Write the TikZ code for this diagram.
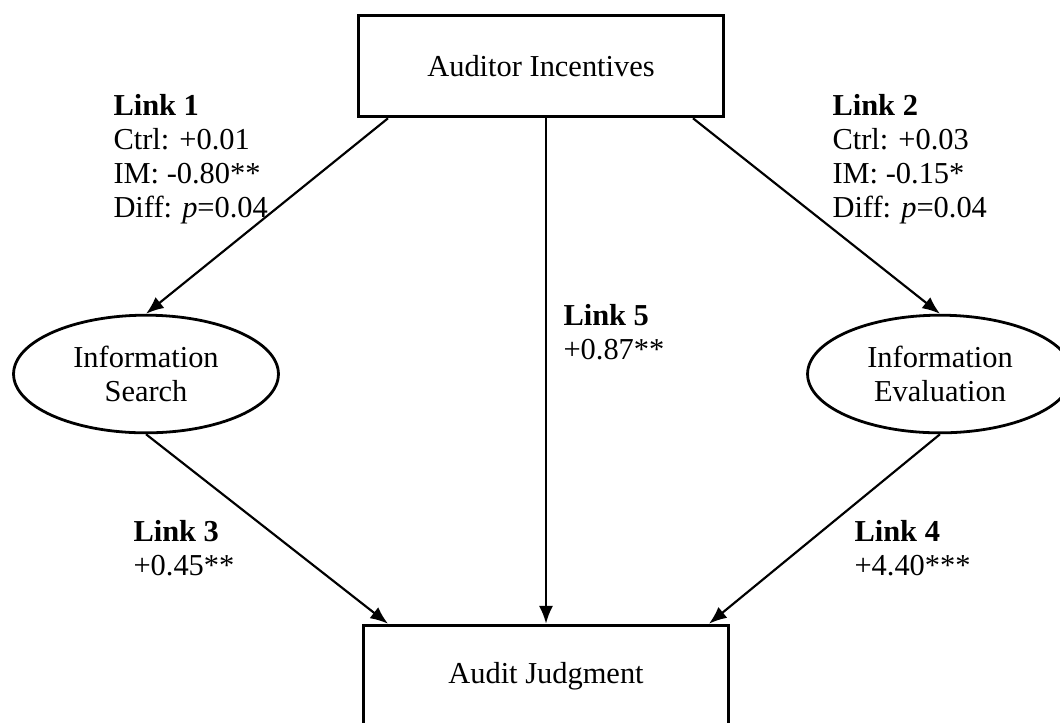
\documentclass[tikz,border=0pt]{standalone}
\usepackage{fontspec}
\setmainfont{Liberation Serif}
\usetikzlibrary{shapes,arrows.meta}

\begin{document}
\begin{tikzpicture}[x=0.01385cm,y=-0.01385cm,>={Latex[length=7pt,width=5.5pt]}]
\tikzstyle{every node}=[font=\fontsize{12}{13.4}\selectfont]
\tikzstyle{box}=[rectangle,draw,line width=1.1pt,minimum width=5.06cm,minimum height=1.41cm]
\tikzstyle{oval}=[ellipse,draw,line width=1.1pt,minimum width=3.67cm,minimum height=1.63cm,align=center]
\tikzstyle{lnk}=[anchor=base west,align=left,inner sep=0pt]
\useasboundingbox (0,0) rectangle (1060,722);
\node[box] (inc) at (541,66) {Auditor Incentives};
\node[oval] (srch) at (146,374) {Information\\Search};
\node[oval] (eval) at (940,374) {Information\\Evaluation};
\node[box] (judg) at (546,676) {Audit Judgment};
\draw[->,line width=0.85pt] ([shift={(-153,0)}]inc.south) -- (srch.north);
\draw[->,line width=0.85pt] ([shift={(152,0)}]inc.south) -- (eval.north);
\draw[->,line width=0.85pt] (inc.south -| judg.north) -- (judg.north);
\draw[->,line width=0.85pt] (srch.south) -- ([shift={(-158,0)}]judg.north);
\draw[->,line width=0.85pt] (eval.south) -- ([shift={(163,0)}]judg.north);
\node[lnk] (l1) at (113,217) {\textbf{Link 1}\\Ctrl: +0.01\\IM: -0.80**\\Diff: \textit{p}=0.04};
\node[lnk] (l2) at (832,217) {\textbf{Link 2}\\Ctrl: +0.03\\IM: -0.15*\\Diff: \textit{p}=0.04};
\node[lnk] (l5) at (563,359) {\textbf{Link 5}\\+0.87**};
\node[lnk] (l3) at (133,575) {\textbf{Link 3}\\+0.45**};
\node[lnk] (l4) at (854,575) {\textbf{Link 4}\\+4.40***};
\end{tikzpicture}
\end{document}
